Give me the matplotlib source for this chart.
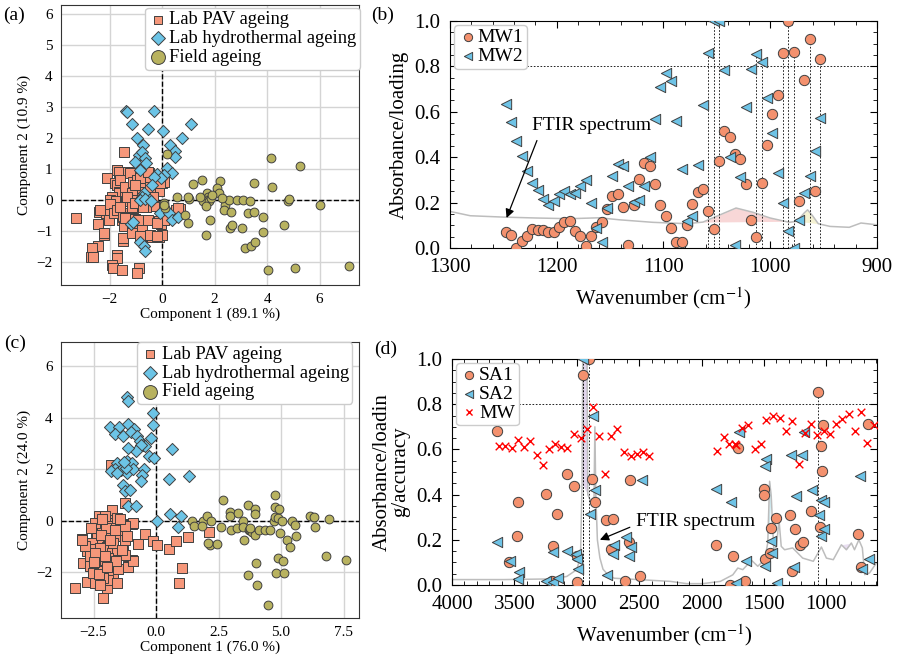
import numpy as np
import matplotlib
matplotlib.use('Agg')
import matplotlib.pyplot as plt
from matplotlib.ticker import MultipleLocator

plt.rcParams['font.family'] = ['Liberation Serif', 'DejaVu Serif']
plt.rcParams['mathtext.fontset'] = 'stix'

# ---------------- data ----------------
# (a) PCA scores
pav_a = [(-1.44, 1.56), (-1.70, 0.97), (-1.66, 0.91), (-1.28, 0.91), (-1.21, 0.86), (-2.08, 0.70),
         (-1.79, 0.56), (-1.72, 0.48), (-1.60, 0.65), (-1.63, 0.27), (-1.66, 0.22), (-1.40, 0.41),
         (-1.02, 0.43), (-1.11, 0.59), (-0.96, 0.65), (-0.83, 0.75), (-0.70, 0.86), (-0.49, 0.88),
         (-0.51, 0.59), (-0.61, 0.38), (-0.83, 0.27), (-0.93, 0.13), (-1.92, 0.11), (-1.98, 0.00),
         (-1.75, -0.05), (-1.40, 0.11), (-1.36, -0.05), (-1.15, 0.22), (-1.09, 0.00), (-0.13, 0.30),
         (0.00, 0.54), (0.06, 0.59), (-0.32, -0.19), (-0.61, -0.22), (-0.77, -0.16), (-1.09, -0.27),
         (-1.47, -0.43), (-1.53, -0.65), (-1.34, -0.67), (-1.02, -0.63), (-0.83, -0.70), (-0.54, -0.65),
         (-0.11, -0.67), (-0.06, -0.78), (0.06, -0.65), (0.54, -0.32), (0.70, -0.30), (-2.40, -0.38),
         (-2.30, -0.34), (-2.13, -0.43), (-2.20, -0.32), (-2.00, -0.13), (-2.04, -0.65), (-2.45, -0.79),
         (-3.28, -0.57), (-1.85, -0.43), (-1.70, -0.34), (-1.60, -0.22), (-1.49, -0.54), (-1.44, -0.84),
         (-1.15, -0.97), (-0.77, -0.97), (-0.64, -1.16), (-0.38, -1.19), (-0.13, -1.21), (0.00, -1.14),
         (-2.21, -1.13), (-2.46, -1.48), (-2.68, -1.56), (-2.72, -1.83), (-2.62, -1.83), (-1.72, -1.78),
         (-1.70, -1.89), (-1.49, -1.33), (-1.49, -1.24), (-1.92, -2.10), (-1.88, -2.21), (-1.53, -2.26),
         (-0.89, -2.21), (-0.96, -2.35), (-0.84, 0.70), (-0.52, 0.91), (-0.07, 0.54), (-0.77, 0.37),
         (-1.03, 0.48), (-1.34, 0.11), (-0.64, 0.27), (-0.45, 0.43), (-0.33, 0.11), (-2.35, -0.32),
         (-1.16, -0.22), (-1.03, -0.11), (-0.71, -0.22), (-1.41, -0.59), (-0.90, -0.64), (-0.20, -0.75),
         (-2.23, -1.08), (-1.16, -1.08), (-0.84, -1.18), (-0.45, -1.12), (-0.20, -1.18), (0.60, -0.27)]
hydro_a = [(-1.37, 2.86), (-1.35, 2.83), (-0.29, 2.88), (-1.15, 2.46), (-0.54, 2.30), (0.03, 2.23),
           (1.11, 2.46), (-0.96, 1.99), (0.74, 1.99), (-0.73, 1.76), (0.29, 1.76), (0.49, 1.59),
           (0.51, 1.38), (-0.89, 1.45), (-0.77, 1.56), (-0.64, 1.35), (-0.61, 1.19), (-1.02, 1.24),
           (-0.83, 0.97), (0.19, 1.02), (0.38, 0.86), (0.09, 0.79), (-0.19, 0.84), (-0.04, 0.70),
           (-0.32, 0.73), (-0.38, 0.48), (-0.57, 0.11), (-0.70, 0.22), (-0.77, 0.11), (-0.83, 0.00),
           (-0.64, 0.02), (-0.42, -0.02), (-0.09, -0.43), (0.26, -0.43), (0.38, -0.65), (0.60, -0.56),
           (-1.17, -0.78), (-1.09, -0.70), (-0.83, -1.35), (-0.70, -1.48), (-0.66, -1.64)]
field_a = [(0.19, 1.49), (1.19, 0.51), (1.51, 0.65), (2.21, 0.61), (2.11, 0.38), (2.17, 0.22),
           (1.70, 0.22), (1.75, 0.10), (1.62, 0.00), (1.55, -0.05), (1.80, -0.05), (1.68, -0.20),
           (1.85, 0.05), (0.57, 0.11), (1.02, 0.02), (0.98, 0.08), (0.86, -0.48), (1.00, -0.73),
           (1.66, -1.13), (1.81, -0.65), (2.39, -0.16), (2.36, -0.34), (2.55, 0.00), (2.62, -0.38),
           (2.58, -0.92), (2.68, -0.81), (3.03, -0.92), (2.85, 0.00), (3.10, 0.00), (3.36, -0.03),
           (3.28, -0.43), (3.49, 0.56), (3.51, -0.38), (3.17, -1.56), (3.38, -1.49), (3.54, -1.35),
           (3.83, -0.56), (3.86, -1.05), (4.15, 1.37), (4.19, 0.43), (4.02, -2.28), (4.66, -0.80),
           (4.79, -0.03), (4.85, 0.02), (5.24, 1.11), (5.07, -2.21), (6.00, -0.16), (7.11, -2.12),
           (0.10, -0.27), (0.06, -0.11), (0.09, -0.16), (1.90, 0.15), (1.45, 0.10), (2.30, 0.05)]

# (c) PCA scores
pav_c = [(-1.77, 0.43), (-2.27, 0.17), (-1.91, 0.04), (-1.64, -0.09), (-1.47, -0.22), (-1.17, -0.12),
         (-0.97, -0.12), (-1.24, -0.41), (-1.37, -0.54), (-1.71, -0.48), (-2.11, -0.41), (-2.40, -0.48),
         (-2.17, -0.22), (-2.37, -0.67), (-2.97, -0.71), (-2.57, -0.87), (-2.77, -1.19), (-2.51, -1.10),
         (-2.17, -0.90), (-1.97, -1.00), (-1.77, -1.26), (-1.55, -1.13), (-1.33, -1.19), (-2.91, -1.62),
         (-2.64, -1.77), (-2.31, -1.62), (-2.04, -1.71), (-2.37, -1.90), (-2.13, -1.96), (-1.84, -1.96),
         (-1.71, -2.05), (-1.51, -1.87), (-1.11, -1.77), (-0.97, -1.54), (-0.71, -0.90), (-0.44, -0.51),
         (-0.11, -0.80), (0.03, -0.93), (-2.77, -2.36), (-2.44, -2.42), (-1.97, -2.61), (-2.11, -3.00),
         (-3.24, -2.61), (-1.91, -2.29), (-2.31, -1.26), (-1.91, -1.45), (-1.84, -0.22), (-2.04, 0.17),
         (-1.57, 0.10), (-1.31, -0.15), (-2.44, -0.09), (-2.24, -1.06), (-2.64, -1.38), (-2.84, -0.99),
         (-1.51, -0.61), (-1.91, -0.61), (-1.24, -0.74), (-1.71, -0.87), (-2.51, -2.03), (-2.11, -2.22),
         (-1.24, 0.69), (-1.80, 2.15), (-2.95, -0.74), (-1.13, -1.81), (-0.93, -1.58), (-1.24, -1.32),
         (-1.38, -1.13), (-1.17, -0.61), (-0.71, -0.91), (0.53, -1.09), (0.80, -0.80), (1.27, -0.63),
         (2.12, -0.44), (1.03, -1.84), (0.93, -2.40), (-0.93, -0.09), (-1.24, -0.22), (-2.00, -0.30),
         (-2.20, -0.55), (-1.85, -0.75), (-2.45, -1.25), (-2.05, -1.35), (-1.60, -1.55), (-2.30, -2.05),
         (-1.95, -1.80), (-2.60, -0.30), (-1.45, 0.05), (-2.15, 0.05), (-1.65, -0.35), (-2.50, -1.60),
         (-1.55, -2.40), (-2.25, -2.50)]
hydro_c = [(-1.17, 4.79), (-1.13, 4.64), (-0.11, 4.16), (-0.13, 3.73), (-1.84, 3.64), (-1.47, 3.64),
           (-1.64, 3.38), (-1.13, 3.76), (-0.88, 3.56), (-1.31, 3.30), (-1.00, 3.43), (-0.77, 3.28),
           (-0.64, 3.08), (-0.51, 2.95), (-0.45, 2.88), (-0.60, 2.92), (-0.21, 3.21), (-0.27, 2.50),
           (-0.08, 2.44), (0.63, 2.78), (-0.81, 2.69), (-1.11, 2.82), (-1.17, 2.31), (-0.97, 2.24),
           (-1.55, 2.22), (-1.64, 2.01), (-1.80, 1.94), (-1.40, 1.98), (-1.17, 1.85), (-1.58, 1.85),
           (-0.93, 2.01), (-0.48, 2.01), (-0.57, 1.76), (-0.61, 1.53), (0.53, 1.62), (1.30, 1.75),
           (-1.31, 1.40), (-1.24, 1.14), (-1.04, 1.20), (-1.11, 0.56), (-0.80, 0.56), (0.56, 0.27),
           (1.00, 0.19), (0.03, 0.00), (0.87, -0.26), (-1.22, 2.05), (-1.30, 2.28)]
field_c = [(1.43, 0.00), (1.50, -0.19), (1.87, 0.00), (2.03, 0.17), (2.20, 0.00), (1.83, -0.22),
           (2.14, -0.95), (2.43, -0.91), (2.59, -0.25), (2.66, 0.82), (2.94, 0.34), (2.96, 0.17),
           (3.00, -0.35), (3.27, 0.30), (3.23, -0.28), (3.46, 0.00), (3.50, -0.74), (3.46, -0.25),
           (3.66, 0.62), (3.70, -0.35), (3.67, -2.12), (3.77, -0.35), (3.85, -0.45), (3.94, 0.45),
           (3.94, 0.27), (3.97, -0.54), (4.00, -1.62), (4.03, -2.50), (4.10, -0.35), (4.34, -0.35),
           (4.57, -0.35), (4.70, 0.00), (4.74, 1.01), (4.77, 0.53), (4.77, 0.14), (4.87, 0.10),
           (4.93, 0.47), (4.94, -0.48), (4.86, -1.45), (5.03, 0.00), (5.06, -1.58), (4.81, -2.03),
           (5.13, -2.03), (4.46, -3.26), (5.43, 0.00), (5.57, -0.16), (5.23, -0.74), (5.37, -1.00),
           (5.59, -0.61), (6.17, 0.19), (6.30, 0.14), (6.37, -0.26), (6.90, 0.06), (6.81, -1.36),
           (7.60, -1.52), (2.09, -0.87), (3.75, -0.30)]

# (b) loadings vs wavenumber
wn_b = [1248, 1243, 1238, 1233, 1228, 1223, 1218, 1213, 1208, 1203, 1198, 1193, 1188, 1183, 1178,
        1173, 1168, 1163, 1158, 1153, 1148, 1143, 1138, 1133, 1128, 1123, 1118, 1113, 1108, 1103,
        1098, 1093, 1088, 1083, 1078, 1073, 1068, 1063, 1058, 1053, 1048, 1043, 1038, 1033, 1028,
        1023, 1018, 1013, 1008, 1003, 998, 993, 988, 983, 978, 973, 968, 963, 958, 953]
mw1 = [0.069, 0.056, 0.000, 0.029, 0.051, 0.083, 0.078, 0.081, 0.070, 0.070, 0.091, 0.113, 0.117,
       0.076, 0.051, 0.007, 0.051, 0.092, 0.113, 0.171, 0.230, 0.239, 0.180, 0.012, 0.190, 0.303,
       0.373, 0.363, 0.283, 0.190, 0.139, 0.088, 0.025, 0.025, 0.100, 0.195, 0.245, 0.259, 0.164,
       0.083, 0.385, 0.517, 0.490, 0.414, 0.391, 0.281, 0.124, 0.048, 0.285, 0.454, 0.590, 0.676,
       0.861, 1.000, 0.864, 0.208, 0.742, 0.919, 0.253, 0.832]
mw2 = [0.634, 0.556, 0.471, 0.407, 0.341, 0.288, 0.256, 0.217, 0.190, 0.205, 0.237, 0.249, 0.239,
       0.242, 0.275, 0.300, 0.198, 0.088, 0.025, 0.176, 0.315, 0.369, 0.363, 0.275, 0.202, 0.212,
       0.271, 0.400, 0.568, 0.710, 0.772, 0.735, 0.561, 0.348, 0.120, 0.139, 0.366, 0.630, 0.857,
       1.000, 1.000, 0.786, 0.400, 0.015, 0.312, 0.622, 0.790, 0.854, 0.817, 0.659, 0.508, 0.332,
       0.198, 0.073, 0.000, 0.122, 0.242, 0.315, 0.429, 0.571]
spec_b = [(1300, 0.161), (1281, 0.142), (1250, 0.136), (1219, 0.132), (1188, 0.129), (1160, 0.133),
          (1141, 0.124), (1110, 0.113), (1078, 0.107), (1063, 0.114), (1047, 0.146), (1032, 0.176),
          (1016, 0.157), (1000, 0.132), (982, 0.113), (975, 0.118), (968, 0.155), (965, 0.168),
          (960, 0.140), (955, 0.107), (944, 0.095), (926, 0.091), (915, 0.110), (900, 0.102)]

# (d) loadings vs wavenumber
sa1 = [(3642, 0.680), (3541, 0.102), (3469, 0.366), (3482, 0.218), (3250, 0.403), (3202, 0.016),
       (3189, 0.171), (3162, 0.316), (3082, 0.493), (3021, 0.437), (3002, 0.127), (2997, 0.012),
       (2948, 0.928), (2900, 1.000), (2876, 0.470), (2855, 0.366), (2762, 0.286), (2708, 0.292),
       (2722, 0.159), (2615, 0.016), (2580, 0.189), (2570, 0.463), (2490, 0.038), (1881, 0.178),
       (1748, 0.130), (1708, 0.606), (1769, 0.000), (1654, 0.016), (1499, 0.426), (1499, 0.400),
       (1494, 0.117), (1441, 0.252), (1454, 0.142), (1406, 0.296), (1289, 0.311), (1273, 0.060),
       (1254, 0.248), (1209, 0.178), (1187, 0.190), (1120, 0.326), (1067, 0.852), (1054, 0.257),
       (1040, 0.613), (1032, 0.506), (1027, 0.709), (747, 0.227), (720, 0.080), (667, 0.714)]
sa2 = [(3642, 0.189), (3536, 0.105), (3461, 0.056), (3469, 0.027), (3250, 0.016), (3189, 0.146),
       (3194, 0.012), (3149, 0.031), (3077, 0.152), (3010, 0.137), (3002, 0.115), (2989, 0.071),
       (2948, 1.000), (2895, 0.314), (2874, 0.749), (2855, 0.419), (2757, 0.046), (2700, 0.178),
       (2708, 0.139), (2607, 0.212), (2567, 0.168), (2580, 0.130), (2481, 0.463), (1881, 0.426),
       (1761, 0.367), (1726, 0.009), (1702, 0.676), (1646, 0.105), (1486, 0.559), (1489, 0.528),
       (1494, 0.086), (1441, 0.193), (1435, 0.142), (1395, 0.009), (1281, 0.577), (1246, 0.392),
       (1262, 0.080), (1198, 0.577), (1179, 0.676), (1113, 0.422), (1059, 0.311), (1046, 0.215),
       (1040, 0.378), (1019, 0.366), (1022, 0.248), (733, 0.484), (712, 0.071), (662, 0.115)]
mw_d = [(3621, 0.614), (3576, 0.614), (3522, 0.606), (3469, 0.643), (3424, 0.611), (3376, 0.636),
        (3322, 0.574), (3274, 0.529), (3223, 0.602), (3175, 0.624), (3130, 0.611), (3077, 0.606),
        (3023, 0.668), (2970, 0.650), (2922, 0.690), (2874, 0.786), (2823, 0.661), (2775, 0.493),
        (2722, 0.658), (2674, 0.690), (2620, 0.587), (2567, 0.569), (2521, 0.580), (2473, 0.587),
        (2423, 0.569), (1873, 0.591), (1822, 0.653), (1780, 0.625), (1734, 0.625), (1721, 0.621),
        (1673, 0.695), (1627, 0.709), (1574, 0.602), (1526, 0.624), (1481, 0.732), (1427, 0.749),
        (1374, 0.739), (1326, 0.683), (1273, 0.724), (1222, 0.537), (1174, 0.673), (1120, 0.712),
        (1072, 0.665), (1019, 0.683), (974, 0.668), (926, 0.714), (872, 0.735), (819, 0.758),
        (774, 0.680), (720, 0.764), (672, 0.628), (621, 0.709)]
spec_d = [(4000, 0.024), (3590, 0.024), (3190, 0.027), (3080, 0.038), (3000, 0.068), (2970, 0.127),
          (2958, 0.450), (2952, 1.050), (2918, 1.050), (2912, 0.400), (2880, 0.360), (2862, 0.380),
          (2855, 0.700), (2848, 0.400), (2835, 0.200), (2815, 0.120), (2790, 0.070), (2750, 0.045),
          (2700, 0.030), (2250, 0.016), (2120, 0.006), (1990, 0.006), (1850, 0.016), (1750, 0.045),
          (1710, 0.075), (1670, 0.068), (1600, 0.109), (1550, 0.083), (1495, 0.112), (1470, 0.186),
          (1455, 0.459), (1442, 0.392), (1422, 0.156), (1400, 0.171), (1380, 0.289), (1362, 0.171),
          (1335, 0.156), (1270, 0.164), (1190, 0.119), (1105, 0.105), (1040, 0.168), (1000, 0.119),
          (945, 0.112), (880, 0.178), (840, 0.156), (800, 0.186), (775, 0.156), (740, 0.200),
          (712, 0.164), (693, 0.046), (655, 0.053), (600, 0.097)]

# ---------------- styling ----------------
c_pav = '#F6977A'
c_hyd = '#6CC4E6'
c_fld = '#B8B25F'
c_o = '#F4916E'
c_b = '#6EC3E6'
edge = '#404040'


def pca_panel(ax, pav, hyd, fld, xlim, ylim, xstep, xlabel, ylabel, legend_anchor):
    pav = np.array(pav)
    hyd = np.array(hyd)
    fld = np.array(fld)
    ax.set_axisbelow(True)
    ax.grid(True, color='#d4d4d4', lw=1.0)
    ax.axhline(0, color='k', ls='--', lw=1.0, zorder=1.5)
    ax.axvline(0, color='k', ls='--', lw=1.0, zorder=1.5)
    ax.scatter(pav[:, 0], pav[:, 1], marker='s', s=58, c=c_pav, edgecolors=edge, linewidths=0.7,
               label='Lab PAV ageing', zorder=3)
    ax.scatter(hyd[:, 0], hyd[:, 1], marker='D', s=38, c=c_hyd, edgecolors=edge, linewidths=0.7,
               label='Lab hydrothermal ageing', zorder=3)
    ax.scatter(fld[:, 0], fld[:, 1], marker='o', s=40, c=c_fld, edgecolors=edge, linewidths=0.7,
               label='Field ageing', zorder=3)
    ax.set_xlim(*xlim)
    ax.set_ylim(*ylim)
    ax.xaxis.set_major_locator(MultipleLocator(xstep))
    ax.yaxis.set_major_locator(MultipleLocator(1 if ylim[1] < 6.5 else 2))
    ax.tick_params(length=0, labelsize=11, pad=6)
    ax.set_xlabel(xlabel, fontsize=11, labelpad=1)
    ax.set_ylabel(ylabel, fontsize=11, labelpad=4)
    for s in ax.spines.values():
        s.set_color('#333333')
        s.set_linewidth(0.8)
    leg = ax.legend(loc='upper right', bbox_to_anchor=legend_anchor, fontsize=13.3, handletextpad=0.1,
                    borderpad=0.2, labelspacing=0.1, handlelength=1.0, borderaxespad=0,
                    framealpha=1, edgecolor='#cccccc', fancybox=True)
    for h, sz in zip(leg.legend_handles, [34, 50, 100]):
        h.set_sizes([sz])


def spectrum_panel(ax, spec, fills, xlim, xmaj, xmin):
    spec = np.array(spec, dtype=float)
    ax.plot(spec[:, 0], spec[:, 1], color='#bdbdbd', lw=1.1, zorder=1)
    for lo, hi, col in fills:
        m = (spec[:, 0] <= hi) & (spec[:, 0] >= lo)
        xs, ys = spec[m, 0], spec[m, 1]
        base = ys[0] + (ys[-1] - ys[0]) * (xs - xs[0]) / (xs[-1] - xs[0])
        ax.fill_between(xs, ys, base, color=col, alpha=0.55, lw=0, zorder=0.9)
    ax.set_xlim(*xlim)
    ax.set_ylim(0, 1.0)
    ax.xaxis.set_major_locator(MultipleLocator(xmaj))
    ax.xaxis.set_minor_locator(MultipleLocator(xmin))
    ax.yaxis.set_major_locator(MultipleLocator(0.2))
    ax.yaxis.set_minor_locator(MultipleLocator(0.05))
    ax.tick_params(which='both', direction='in', top=True, right=True, labelsize=15, pad=7)
    ax.tick_params(which='major', length=5)
    ax.tick_params(which='minor', length=3)
    ax.axhline(0.8, color='k', ls=(0, (2, 2)), lw=0.6, zorder=1.2)
    ax.set_xlabel('Wavenumber (cm$^{-1}$)', fontsize=15, labelpad=6)


def guide_lines(ax, xs, ys):
    xs = np.asarray(xs, dtype=float)
    ys = np.asarray(ys, dtype=float)
    m = ys >= 0.8
    ax.vlines(xs[m], 0, ys[m], colors='k', linestyles=(0, (2, 2)), lw=0.6, zorder=1.2)


fig = plt.figure(figsize=(9, 6.65), dpi=100)
ax_a = fig.add_axes([0.0678, 0.5714, 0.3311, 0.4211])
ax_b = fig.add_axes([0.5000, 0.6271, 0.4744, 0.3414])
ax_c = fig.add_axes([0.0678, 0.0707, 0.3311, 0.4150])
ax_d = fig.add_axes([0.5022, 0.1203, 0.4722, 0.3398])

# (a)
pca_panel(ax_a, pav_a, hydro_a, field_a, (-3.85, 7.5), (-2.75, 6.3), 2,
          'Component 1 (89.1 %)', 'Component 2 (10.9 %)', (1.003, 0.99))
# (c)
pca_panel(ax_c, pav_c, hydro_c, field_c, (-3.8, 8.12), (-3.77, 6.93), 2.5,
          'Component 1 (76.0 %)', 'Component 2 (24.0 %)', (0.978, 1.0))

# (b)
spectrum_panel(ax_b, spec_b, [(975, 1063, '#f4b6b6'), (953, 975, '#eee8b0'), (900, 920, '#bfe4ec')],
               (1300, 900), 100, 20)
guide_lines(ax_b, wn_b, mw1)
guide_lines(ax_b, wn_b, mw2)
ax_b.scatter(wn_b, mw1, marker='o', s=55, c=c_o, edgecolors=edge, linewidths=0.7, label='MW1', zorder=3)
ax_b.scatter(wn_b, mw2, marker='<', s=55, c=c_b, edgecolors=edge, linewidths=0.7, label='MW2', zorder=3)
ax_b.set_ylabel('Absorbance/loading', fontsize=15, labelpad=4)
ax_b.legend(loc='upper left', fontsize=14, handletextpad=0.0, borderpad=0.2, labelspacing=0.05,
            handlelength=1.0, borderaxespad=0.2, markerscale=0.8, framealpha=1, edgecolor='#cccccc')
ax_b.annotate('FTIR spectrum', xy=(1247, 0.132), xytext=(1167, 0.54), fontsize=14,
              ha='center', va='center',
              arrowprops=dict(arrowstyle='-|>', color='k', lw=0.9, mutation_scale=13,
                              relpos=(0.06, 0.0), shrinkA=3, shrinkB=0))

# (d)
sa1_arr = np.array(sa1)
sa2_arr = np.array(sa2)
mw_arr = np.array(mw_d)
spectrum_panel(ax_d, spec_d, [(2905, 2965, '#c9b3dd'), (2830, 2870, '#ddd0ea'), (1555, 1650, '#efe7b0'),
                              (1440, 1475, '#a6dde8'), (1368, 1392, '#b8d4ec'), (1015, 1062, '#f6c3c3'),
                              (790, 890, '#d9c6e8'), (712, 760, '#ecc3d8')],
               (4000, 595), 500, 100)
guide_lines(ax_d, sa1_arr[:, 0], sa1_arr[:, 1])
guide_lines(ax_d, sa2_arr[:, 0], sa2_arr[:, 1])
ax_d.scatter(sa1_arr[:, 0], sa1_arr[:, 1], marker='o', s=55, c=c_o, edgecolors=edge, linewidths=0.7,
             label='SA1', zorder=3)
ax_d.scatter(sa2_arr[:, 0], sa2_arr[:, 1], marker='<', s=55, c=c_b, edgecolors=edge, linewidths=0.7,
             label='SA2', zorder=3)
ax_d.scatter(mw_arr[:, 0], mw_arr[:, 1], marker='x', s=30, c='#ff0000', linewidths=1.0,
             label='MW', zorder=3)
ax_d.set_ylabel('Absorbance/loadin\ng/accuracy', fontsize=15, labelpad=4, linespacing=1.0)
ax_d.legend(loc='upper left', fontsize=14, handletextpad=0.0, borderpad=0.2, labelspacing=0.05,
            handlelength=1.0, borderaxespad=0.2, markerscale=0.8, framealpha=1, edgecolor='#cccccc')
ax_d.annotate('FTIR spectrum', xy=(2815, 0.2), xytext=(2522, 0.279), fontsize=14,
              ha='left', va='center',
              arrowprops=dict(arrowstyle='-|>', color='k', lw=0.9, mutation_scale=13,
                              relpos=(0.0, 0.35), shrinkA=3, shrinkB=0))

# panel labels
fig.text(0.004, 0.977, '(a)', fontsize=14, va='center', ha='left')
fig.text(0.412, 0.977, '(b)', fontsize=14, va='center', ha='left')
fig.text(0.005, 0.484, '(c)', fontsize=14, va='center', ha='left')
fig.text(0.416, 0.475, '(d)', fontsize=14, va='center', ha='left')

fig.savefig('out.png', dpi=100)
